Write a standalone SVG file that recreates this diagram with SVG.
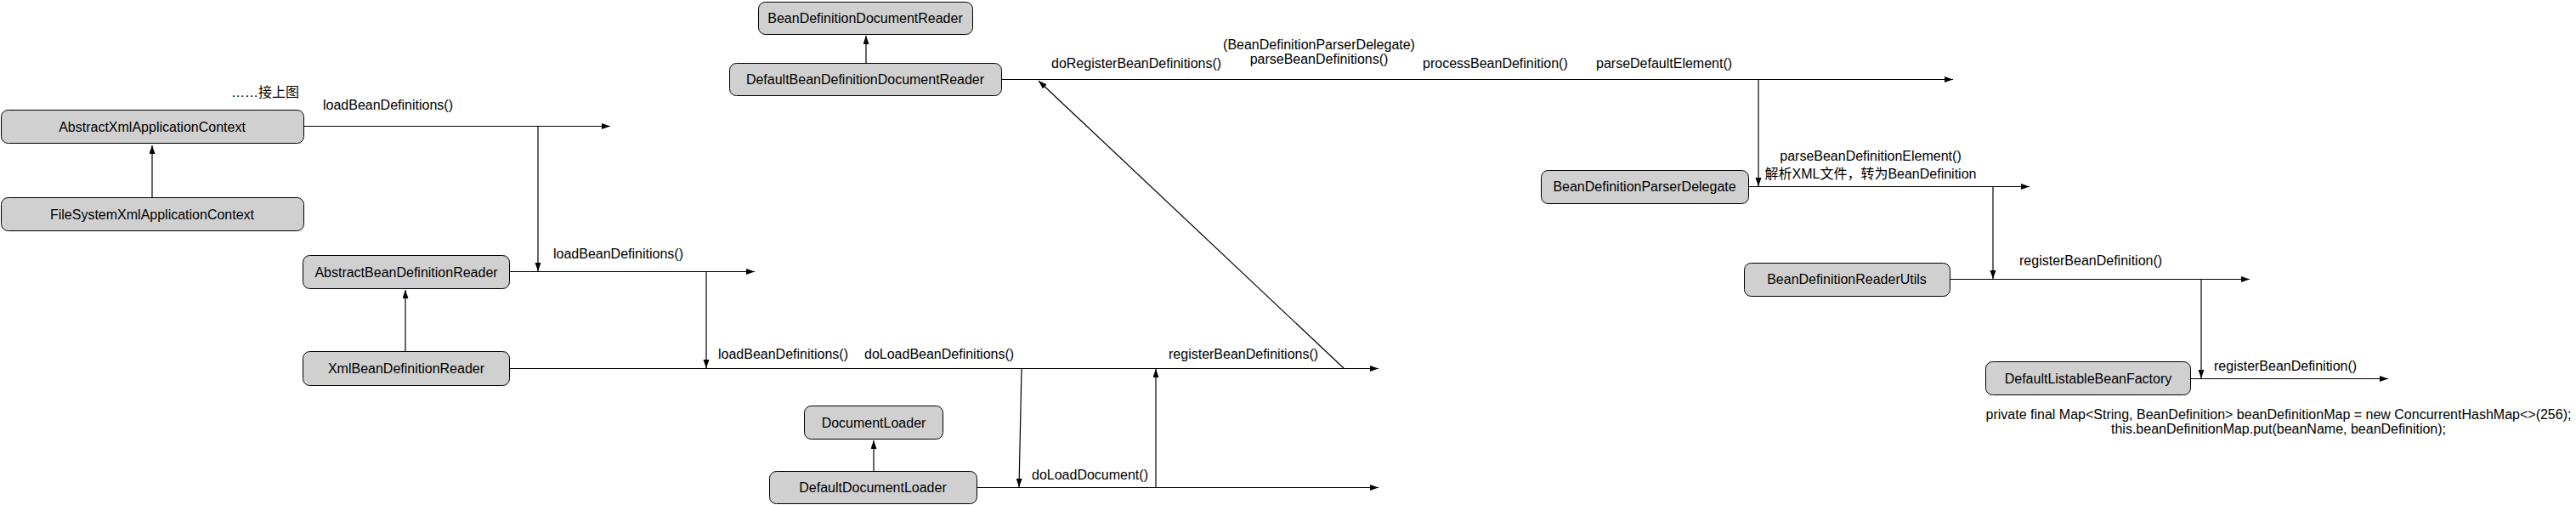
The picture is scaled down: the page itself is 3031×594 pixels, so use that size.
<svg xmlns="http://www.w3.org/2000/svg" width="3031" height="594" viewBox="0 0 3031 594">
<style>
.node rect{fill:#d0d0d0;stroke:#000;stroke-width:1}
.node text{font-family:"Liberation Sans","Noto Sans CJK SC",sans-serif;font-size:16px;fill:#000;text-anchor:middle}
.conn{fill:none;stroke:#000;stroke-width:1.2}
.lbl{font-family:"Liberation Sans","Noto Sans CJK SC",sans-serif;font-size:16px;fill:#000}
.mid{text-anchor:middle}
</style>
<defs>
<marker id="ah" markerUnits="userSpaceOnUse" markerWidth="11" markerHeight="8" refX="10" refY="3.5" orient="auto">
<path d="M0,0 L10,3.5 L0,7 z" fill="#000"/>
</marker>
</defs>
<rect width="3031" height="594" fill="#fff"/>

<g id="connectors">
<path class="conn" d="M179,232 L179,171" marker-end="url(#ah)"/>
<path class="conn" d="M477,413 L477,341" marker-end="url(#ah)"/>
<path class="conn" d="M1019,74 L1019,42" marker-end="url(#ah)"/>
<path class="conn" d="M1028,554 L1028,518" marker-end="url(#ah)"/>

<path class="conn" d="M357,148.5 L718,148.5" marker-end="url(#ah)"/>
<path class="conn" d="M599,319.5 L888,319.5" marker-end="url(#ah)"/>
<path class="conn" d="M599,433.5 L1622,433.5" marker-end="url(#ah)"/>
<path class="conn" d="M1178,93.5 L2298,93.5" marker-end="url(#ah)"/>
<path class="conn" d="M1149,573.5 L1622,573.5" marker-end="url(#ah)"/>
<path class="conn" d="M2057,219.5 L2388,219.5" marker-end="url(#ah)"/>
<path class="conn" d="M2294,328.5 L2647,328.5" marker-end="url(#ah)"/>
<path class="conn" d="M2577,445.5 L2810,445.5" marker-end="url(#ah)"/>

<path class="conn" d="M633,148 L633,319" marker-end="url(#ah)"/>
<path class="conn" d="M831,319 L831,433" marker-end="url(#ah)"/>
<path class="conn" d="M1202,433 L1199,573" marker-end="url(#ah)"/>
<path class="conn" d="M1360,573 L1360,434" marker-end="url(#ah)"/>
<path class="conn" d="M1581,433 L1222,95" marker-end="url(#ah)"/>
<path class="conn" d="M2069,93 L2069,219" marker-end="url(#ah)"/>
<path class="conn" d="M2345,219 L2345,328" marker-end="url(#ah)"/>
<path class="conn" d="M2590,328 L2590,445" marker-end="url(#ah)"/>
</g>

<g id="labels">
<text class="lbl" x="272" y="114">……接上图</text>
<text class="lbl" x="380" y="129">loadBeanDefinitions()</text>
<text class="lbl" x="651" y="304">loadBeanDefinitions()</text>
<text class="lbl" x="845" y="422">loadBeanDefinitions()</text>
<text class="lbl" x="1017" y="422">doLoadBeanDefinitions()</text>
<text class="lbl" x="1375" y="422">registerBeanDefinitions()</text>
<text class="lbl" x="1214" y="564">doLoadDocument()</text>
<text class="lbl" x="1237" y="80">doRegisterBeanDefinitions()</text>
<text class="lbl mid" x="1552" y="58">(BeanDefinitionParserDelegate)</text>
<text class="lbl mid" x="1552" y="75">parseBeanDefinitions()</text>
<text class="lbl" x="1674" y="80">processBeanDefinition()</text>
<text class="lbl" x="1878" y="80">parseDefaultElement()</text>
<text class="lbl mid" x="2201" y="189">parseBeanDefinitionElement()</text>
<text class="lbl mid" x="2201" y="210">解析XML文件，转为BeanDefinition</text>
<text class="lbl" x="2376" y="312">registerBeanDefinition()</text>
<text class="lbl" x="2605" y="436">registerBeanDefinition()</text>
<text class="lbl mid" x="2681" y="493">private final Map&lt;String, BeanDefinition&gt; beanDefinitionMap = new ConcurrentHashMap&lt;&gt;(256);</text>
<text class="lbl mid" x="2681" y="510">this.beanDefinitionMap.put(beanName, beanDefinition);</text>
</g>

<g id="AbstractXmlApplicationContext" class="node"><rect x="1.5" y="129.5" width="356" height="39" rx="8"/><text x="179" y="155">AbstractXmlApplicationContext</text></g>
<g id="FileSystemXmlApplicationContext" class="node"><rect x="1.5" y="232.5" width="356" height="39" rx="8"/><text x="179" y="258">FileSystemXmlApplicationContext</text></g>
<g id="AbstractBeanDefinitionReader" class="node"><rect x="356.5" y="300.5" width="243" height="39" rx="8"/><text x="478" y="326">AbstractBeanDefinitionReader</text></g>
<g id="XmlBeanDefinitionReader" class="node"><rect x="356.5" y="413.5" width="243" height="40" rx="8"/><text x="478" y="439">XmlBeanDefinitionReader</text></g>
<g id="BeanDefinitionDocumentReader" class="node"><rect x="892.5" y="2.5" width="252" height="38" rx="8"/><text x="1018" y="27">BeanDefinitionDocumentReader</text></g>
<g id="DefaultBeanDefinitionDocumentReader" class="node"><rect x="858.5" y="74.5" width="320" height="38" rx="8"/><text x="1018" y="99">DefaultBeanDefinitionDocumentReader</text></g>
<g id="DocumentLoader" class="node"><rect x="946.5" y="477.5" width="163" height="39" rx="8"/><text x="1028" y="503">DocumentLoader</text></g>
<g id="DefaultDocumentLoader" class="node"><rect x="905.5" y="554.5" width="244" height="38" rx="8"/><text x="1027" y="579">DefaultDocumentLoader</text></g>
<g id="BeanDefinitionParserDelegate" class="node"><rect x="1813.5" y="200.5" width="244" height="39" rx="8"/><text x="1935" y="225">BeanDefinitionParserDelegate</text></g>
<g id="BeanDefinitionReaderUtils" class="node"><rect x="2052.5" y="309.5" width="242" height="39" rx="8"/><text x="2173" y="334">BeanDefinitionReaderUtils</text></g>
<g id="DefaultListableBeanFactory" class="node"><rect x="2336.5" y="425.5" width="241" height="39" rx="8"/><text x="2457" y="451">DefaultListableBeanFactory</text></g>
</svg>
